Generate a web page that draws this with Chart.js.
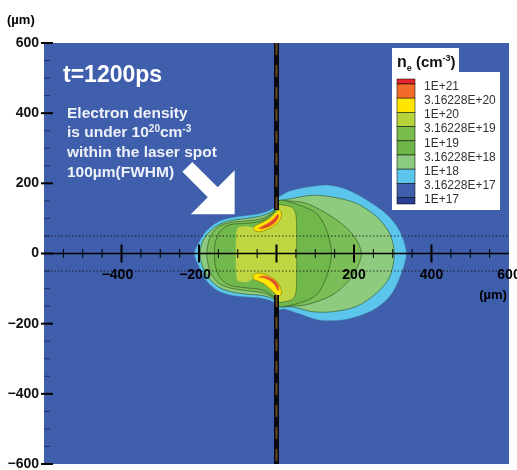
<!DOCTYPE html>
<html>
<head>
<meta charset="utf-8">
<script src="https://cdn.jsdelivr.net/npm/chart.js@4.4.0/dist/chart.umd.min.js"></script>
<style>
  html, body { margin: 0; padding: 0; background: #fff; }
</style>
</head>
<body>
<canvas id="viz" width="517" height="470"></canvas>
<script>
// axis / legend text
var xTickLabels = [-400, -200, 200, 400, 600];
var levelLabels = ['1E+21', '3.16228E+20', '1E+20', '3.16228E+19', '1E+19',
                   '3.16228E+18', '1E+18', '3.16228E+17', '1E+17'];
var levelColors = ['#E4252A', '#F26B2B', '#FFE500', '#B7D33C', '#7ABD4A',
                   '#6EB648', '#8CCB7F', '#5CC5EC', '#3F5EAB', '#2A3E93'];

// laser spot FWHM edges (um); target at x = 0, hidden inside the plume
var spotEdges = [50, -50];
var targetX = 0;
var targetY = [600, 124, null, -118, -600];

// contour boundaries, [x, y] in um
var edge1e18 = [[3,160],[34,178],[85,190],[130,195],[180,183],[232,153],[284,112],[317,66],[335,0],
  [317,-72],[291,-124],[248,-162],[180,-188],[111,-190],[59,-172],[20,-158],[3,-160],
  [-5,-140],[-36,-128],[-77,-124],[-121,-118],[-155,-104],[-183,-75],[-200,-38],[-212,0],
  [-200,32],[-183,62],[-155,88],[-121,101],[-77,108],[-36,116],[-5,132],[3,160]];
var edge316e18 = [[3,150],[41,157],[93,166],[144,161],[206,143],[258,105],[292,57],[304,0],
  [292,-67],[258,-113],[206,-151],[144,-166],[93,-166],[41,-152],[3,-150],
  [-5,-132],[-36,-120],[-77,-116],[-121,-108],[-152,-94],[-178,-65],[-193,-30],[-197,0],
  [-193,28],[-178,56],[-152,80],[-121,93],[-77,100],[-36,108],[-5,125],[3,150]];
var edge1e19 = [[3,148],[30,150],[77,143],[144,104],[194,58],[219,0],[194,-67],[144,-118],
  [77,-146],[30,-150],[3,-148],
  [-5,-128],[-36,-112],[-77,-106],[-121,-98],[-150,-84],[-170,-55],[-180,0],
  [-170,50],[-150,76],[-121,88],[-77,93],[-36,100],[-5,122],[3,148]];
var edge316e19 = [[3,150],[15,152],[59,138],[103,115],[129,67],[142,0],[129,-67],[103,-118],
  [59,-141],[15,-152],[3,-150],
  [-5,-126],[-36,-104],[-77,-98],[-121,-90],[-145,-70],[-158,-35],[-160,0],
  [-158,32],[-145,64],[-121,82],[-77,86],[-36,94],[-5,120],[3,150]];
// the 1E+20 level, right and left of the target
var edge1e20Right = [[2,140],[25,137],[42,130],[50,112],[52,60],[52,0],[52,-60],[50,-112],
  [42,-130],[25,-137],[2,-140]];
var edge1e20Left = [[4,125],[0,119],[-8,110],[-16,102],[-26,92],[-38,85],[-52,78],[-62,74],
  [-75,76],[-88,76],[-100,72],[-104,40],[-104,0],[-104,-40],[-100,-76],[-88,-80],[-75,-80],
  [-62,-72],[-52,-68],[-38,-68],[-26,-72],[-14,-86],[-4,-100],[4,-115]];
var crescentTop = [[-60,72],[-52,81],[-38,88],[-26,95],[-16,102],[-8,110],[0,119],[6,124],
  [11,120],[13,109],[10,98],[5,90],[-5,80],[-17,72],[-30,66],[-43,62],[-55,64],[-60,72]];
var crescentBottom = [[-60,-62],[-52,-56],[-38,-57],[-26,-61],[-14,-67],[-4,-75],[4,-84],
  [9,-94],[13,-109],[10,-118],[4,-122],[0,-118],[-8,-110],[-14,-104],[-24,-94],[-35,-85],
  [-47,-79],[-57,-75],[-61,-69],[-60,-62]];
var coreTop = [[-46,72],[-36,78],[-24,85],[-14,92],[-6,100],[0,108],[4,112],[6,106],
  [2,96],[-4,88],[-14,80],[-26,74],[-38,70],[-46,72]];
var coreBottom = [[-46,-68],[-34,-69],[-22,-74],[-12,-81],[-4,-90],[1,-100],[4,-106],[6,-100],
  [4,-90],[-2,-80],[-12,-72],[-24,-66],[-36,-64],[-46,-68]];

var FONT = "'Liberation Sans', Arial, sans-serif";
var BG = '#3F5EAB';
var MINUS = '\u2212';

function pts(list) {
  return list.map(function (p) { return { x: p[0], y: p[1] }; });
}

function region(list, color, line) {
  return {
    data: pts(list),
    showLine: true,
    fill: 'shape',
    backgroundColor: color,
    borderColor: line || 'rgba(35,70,25,0.7)',
    borderWidth: 0.8,
    tension: 0.3,
    pointRadius: 0
  };
}

function hline(y) {
  return {
    data: [{ x: -600, y: y }, { x: 600, y: y }],
    showLine: true, fill: false, pointRadius: 0,
    borderColor: 'rgba(15,15,15,0.8)', borderWidth: 1, borderDash: [1.5, 2]
  };
}

function target(color, width, dash) {
  return {
    data: targetY.map(function (y) { return { x: targetX, y: y }; }),
    showLine: true, fill: false, pointRadius: 0, spanGaps: false,
    borderColor: color, borderWidth: width, borderDash: dash
  };
}

// listed bottom to top
var layers = [
  region(edge1e18, '#5CC5EC', 'rgba(60,120,150,0.5)'),
  region(edge316e18, '#8FCB7E'),
  region(edge1e19, '#7BBE57'),
  region(edge316e19, '#70B84B'),
  region(edge1e20Right, '#BDD642', 'rgba(35,70,25,0.6)'),
  region(edge1e20Left, '#BDD642', 'rgba(189,214,66,1)'),
  region(crescentTop, '#FFE500', 'rgba(120,100,20,0.7)'),
  region(crescentBottom, '#FFE500', 'rgba(120,100,20,0.7)'),
  region(coreTop, '#DC4B2A', 'rgba(235,120,40,0.9)'),
  region(coreBottom, '#DC4B2A', 'rgba(235,120,40,0.9)'),
  hline(spotEdges[0]),
  hline(spotEdges[1]),
  target('#0A0A0A', 5, []),
  target('rgba(110,78,40,0.9)', 2, [12, 10])
];
layers.forEach(function (d, i) { d.order = layers.length - i; });

function supText(ctx, parts, x, y) {
  parts.forEach(function (p) {
    ctx.font = 'bold ' + p.size + 'px ' + FONT;
    ctx.fillText(p.t, x, y - (p.rise || 0));
    x += ctx.measureText(p.t).width;
  });
}

var decor = {
  id: 'decor',
  beforeDraw: function (chart) {
    var ctx = chart.ctx, a = chart.chartArea;
    ctx.save();
    ctx.fillStyle = '#fff';
    ctx.fillRect(0, 0, chart.width, chart.height);
    ctx.fillStyle = BG;
    ctx.fillRect(a.left, a.top, a.right - a.left, a.bottom - a.top);
    ctx.restore();
  },
  afterDatasetsDraw: function (chart) {
    var ctx = chart.ctx, a = chart.chartArea;
    var xs = chart.scales.x, ys = chart.scales.y;
    var y0 = ys.getPixelForValue(0);
    ctx.save();

    // x axis through y = 0
    ctx.strokeStyle = '#000';
    ctx.lineWidth = 1.5;
    ctx.beginPath();
    ctx.moveTo(a.left, y0); ctx.lineTo(a.right, y0);
    ctx.stroke();
    for (var v = -550; v <= 550; v += 50) {
      var px = xs.getPixelForValue(v);
      var major = v % 200 === 0;
      var len = major ? 9 : 4.5;
      ctx.lineWidth = major ? 2 : 1;
      ctx.beginPath();
      ctx.moveTo(px, y0 - len); ctx.lineTo(px, y0 + len);
      ctx.stroke();
    }
    // digits centred on the tick, minus sign hanging to the left
    ctx.fillStyle = '#000';
    ctx.font = 'bold 14px ' + FONT;
    ctx.textBaseline = 'alphabetic';
    xTickLabels.forEach(function (t) {
      var digits = String(Math.abs(t));
      var dw = ctx.measureText(digits).width;
      var x = xs.getPixelForValue(t) - dw / 2;
      ctx.textAlign = 'left';
      ctx.fillText(digits, x, y0 + 25.5);
      if (t < 0) {
        ctx.textAlign = 'right';
        ctx.fillText(MINUS, x, y0 + 25.5);
      }
    });
    ctx.textAlign = 'center';
    ctx.font = 'bold 13px ' + FONT;
    ctx.fillText('(\u00b5m)', 493, 299);

    // y axis ticks
    for (var w = -600; w <= 600; w += 50) {
      var py = ys.getPixelForValue(w);
      if (w % 200 === 0) {
        ctx.strokeStyle = '#000'; ctx.lineWidth = 2;
        ctx.beginPath(); ctx.moveTo(a.left - 3, py); ctx.lineTo(a.left + 9, py); ctx.stroke();
      } else {
        ctx.strokeStyle = 'rgba(20,30,70,0.7)'; ctx.lineWidth = 1;
        ctx.beginPath(); ctx.moveTo(a.left, py); ctx.lineTo(a.left + 6, py); ctx.stroke();
      }
    }
    ctx.textAlign = 'left';
    ctx.font = 'bold 13px ' + FONT;
    ctx.fillText('(\u00b5m)', 7, 24);

    // title and note
    ctx.fillStyle = '#fff';
    ctx.font = 'bold 23px ' + FONT;
    ctx.fillText('t=1200ps', 63, 82);
    ctx.fillStyle = '#EEF1F8';
    ctx.font = 'bold 15.5px ' + FONT;
    ctx.fillText('Electron density', 67, 118);
    supText(ctx, [
      { t: 'is under 10', size: 15.5 },
      { t: '20', size: 10, rise: 5 },
      { t: 'cm', size: 15.5 },
      { t: '-3', size: 10, rise: 5 }
    ], 67, 137);
    ctx.font = 'bold 15.5px ' + FONT;
    ctx.fillText('within the laser spot', 67, 157);
    ctx.fillText('100\u00b5m(FWHM)', 67, 177);

    // arrow toward the laser spot
    var t0x = xs.getPixelForValue(-230), t0y = ys.getPixelForValue(247);
    var t1x = xs.getPixelForValue(-108), t1y = ys.getPixelForValue(112);
    var dx = t1x - t0x, dy = t1y - t0y, L = Math.sqrt(dx * dx + dy * dy);
    dx /= L; dy /= L;
    var nx = -dy, ny = dx;
    var hl = 31, hw = 31, sw = 7;
    var bx = t1x - dx * hl, by = t1y - dy * hl;
    ctx.fillStyle = '#fff';
    ctx.beginPath();
    ctx.moveTo(t0x + nx * sw, t0y + ny * sw);
    ctx.lineTo(bx + nx * sw, by + ny * sw);
    ctx.lineTo(bx + nx * hw, by + ny * hw);
    ctx.lineTo(t1x, t1y);
    ctx.lineTo(bx - nx * hw, by - ny * hw);
    ctx.lineTo(bx - nx * sw, by - ny * sw);
    ctx.lineTo(t0x - nx * sw, t0y - ny * sw);
    ctx.closePath();
    ctx.fill();

    // colour legend
    ctx.fillStyle = '#fff';
    ctx.fillRect(392, 48, 67, 25);
    ctx.fillRect(392, 72, 108, 138);
    ctx.fillStyle = '#111';
    supText(ctx, [
      { t: 'n', size: 16 },
      { t: 'e', size: 9, rise: -4 },
      { t: ' (cm', size: 15 },
      { t: '-3', size: 9, rise: 6 },
      { t: ')', size: 15 }
    ], 397, 67);
    var step = 14.2, top = 84;
    var edges = [79];
    for (var i = 0; i < levelLabels.length; i++) edges.push(top + i * step);
    edges.push(204);
    ctx.lineWidth = 0.8;
    ctx.strokeStyle = 'rgba(0,0,0,0.65)';
    for (var k = 0; k < levelColors.length; k++) {
      ctx.fillStyle = levelColors[k];
      ctx.fillRect(397, edges[k], 18, edges[k + 1] - edges[k]);
      ctx.strokeRect(397, edges[k], 18, edges[k + 1] - edges[k]);
    }
    ctx.fillStyle = '#333';
    ctx.font = '12px ' + FONT;
    ctx.textBaseline = 'middle';
    levelLabels.forEach(function (lab, j) {
      ctx.fillText(lab, 424, top + j * step + 2.5);
    });
    ctx.restore();
  }
};

new Chart(document.getElementById('viz').getContext('2d'), {
  type: 'scatter',
  data: { datasets: layers },
  options: {
    responsive: false,
    animation: false,
    events: [],
    layout: { padding: { top: 43, right: 8, bottom: 6, left: 0 } },
    plugins: { legend: { display: false }, tooltip: { enabled: false } },
    scales: {
      x: { type: 'linear', min: -600, max: 600, display: false },
      y: {
        type: 'linear', min: -600, max: 600, position: 'left',
        ticks: {
          stepSize: 200, color: '#111', padding: 5,
          font: { family: FONT, size: 14, weight: 'bold' },
          callback: function (v) { return String(v).replace('-', MINUS); }
        },
        grid: { display: false, drawTicks: false },
        border: { display: false },
        afterFit: function (s) { s.width = 44; s.paddingTop = 0; s.paddingBottom = 0; }
      }
    }
  },
  plugins: [decor]
});
</script>
</body>
</html>
